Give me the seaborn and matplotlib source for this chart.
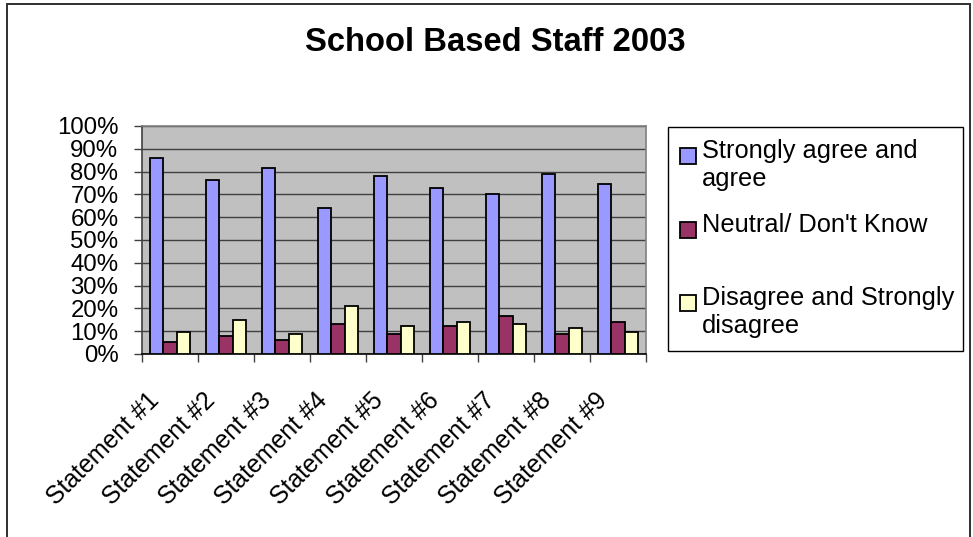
import matplotlib
matplotlib.use("Agg")
import matplotlib.pyplot as plt
import matplotlib.patches as mpatches
from matplotlib.legend_handler import HandlerPatch
from matplotlib.ticker import PercentFormatter, MultipleLocator
from matplotlib.transforms import ScaledTranslation
import pandas as pd
import seaborn as sns

# Survey results: share of respondents per statement
statements = [f"Statement #{i}" for i in range(1, 10)]
agree = [0.86, 0.762, 0.816, 0.64, 0.779, 0.728, 0.702, 0.791, 0.747]
neutral = [0.053, 0.079, 0.061, 0.132, 0.088, 0.123, 0.167, 0.088, 0.14]
disagree = [0.096, 0.149, 0.088, 0.211, 0.123, 0.14, 0.132, 0.114, 0.096]

series_names = ["Strongly agree and agree", "Neutral/ Don't Know",
                "Disagree and Strongly disagree"]
legend_labels = ["Strongly agree and\nagree", "Neutral/ Don't Know\n ",
                 "Disagree and Strongly\ndisagree"]
colors = ["#9999FF", "#993366", "#FFFFCC"]

df = pd.DataFrame({
    "Statement": statements * 3,
    "Response": [series_names[0]] * 9 + [series_names[1]] * 9 + [series_names[2]] * 9,
    "Share": agree + neutral + disagree,
})

sns.set_theme(style="white")
plt.rcParams["font.family"] = ["Liberation Sans", "DejaVu Sans"]
plt.rcParams["text.color"] = "black"

fig = plt.figure(figsize=(9.73, 5.37), dpi=100)
W, H = 973, 537
ax = fig.add_axes([142 / W, 1 - 354 / H, (646 - 142) / W, (354 - 126) / H])

sns.barplot(data=df, x="Statement", y="Share", hue="Response",
            hue_order=series_names, palette=dict(zip(series_names, colors)),
            width=0.7, edgecolor="black", linewidth=1.3, saturation=1,
            ax=ax, zorder=3)

ax.set_facecolor("#C0C0C0")
ax.set_ylim(0, 1)
ax.set_xlim(-0.5, 8.5)
ax.yaxis.set_major_locator(MultipleLocator(0.1))
ax.yaxis.set_major_formatter(PercentFormatter(1, decimals=0))
ax.yaxis.grid(True, color="#404040", linewidth=1.0, zorder=0)
ax.set_axisbelow(True)
ax.set_xlabel("")
ax.set_ylabel("")

for side, col in [("left", "#404040"), ("bottom", "#000000"),
                  ("top", "#808080"), ("right", "#808080")]:
    ax.spines[side].set_color(col)
    ax.spines[side].set_linewidth(1.2)

ax.tick_params(axis="y", which="major", left=True, length=6, width=1,
               color="#404040", pad=11, labelsize=17.3, labelcolor="black")
# x ticks sit between the category groups
ax.set_xticks([i - 0.5 for i in range(10)], minor=True)
ax.tick_params(axis="x", which="minor", bottom=True, length=6, width=1,
               color="#404040")
ax.tick_params(axis="x", which="major", bottom=False, length=0, pad=2,
               labelsize=17.9, labelcolor="black")
shift = ScaledTranslation(-23 / 100, -31 / 100, fig.dpi_scale_trans)
for lab in ax.get_xticklabels():
    lab.set_rotation(45)
    lab.set_ha("right")
    lab.set_va("top")
    lab.set_rotation_mode("anchor")
    lab.set_transform(lab.get_transform() + shift)

fig.text(0.509, 1 - 42.5 / H, "School Based Staff 2003", ha="center",
         va="center", fontsize=23.6, fontweight="bold", color="black")


def raised_square(legend, orig_handle, xdescent, ydescent, width, height, fontsize):
    # put the swatch beside the first line of a two-line label
    return mpatches.Rectangle((-xdescent, -ydescent + 0.38 * fontsize), width, height)


handles, _ = ax.get_legend_handles_labels()
leg = ax.legend(handles, legend_labels, loc="upper left",
                bbox_to_anchor=(668 / W, 1 - 351 / H, (963 - 668) / W, (351 - 127) / H),
                bbox_transform=fig.transFigure, mode="expand", borderaxespad=0,
                fontsize=18.3, frameon=True, fancybox=False, framealpha=1,
                edgecolor="black", handlelength=0.6, handleheight=0.6,
                handletextpad=0.25, labelspacing=0.85, borderpad=0.49,
                labelcolor="black",
                handler_map={mpatches.Rectangle: HandlerPatch(patch_func=raised_square)})
leg.get_frame().set_linewidth(1.0)

# outer chart border
fig.patches.append(mpatches.Rectangle((7 / W, -0.05), (970 - 7) / W, 1.05 - 4 / H,
                                      transform=fig.transFigure, fill=False,
                                      edgecolor="#303030", linewidth=1.4))

fig.savefig("out.png", dpi=100, facecolor="white")
